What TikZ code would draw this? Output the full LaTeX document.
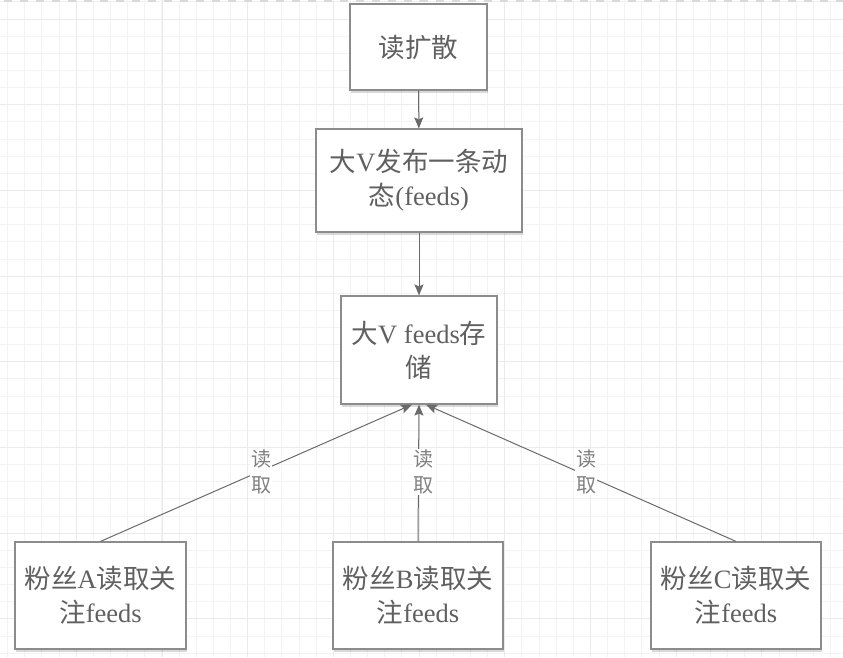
\documentclass[tikz,border=0pt]{standalone}
\usepackage{fontspec}
\setmainfont{Liberation Serif}
\newfontfamily\cjk{Noto Sans CJK SC}
\usetikzlibrary{arrows.meta,shadows}

\definecolor{gridmin}{HTML}{F3F3F3}
\definecolor{gridmaj}{HTML}{EBEBEB}
\definecolor{pageline}{HTML}{D9D9D9}
\definecolor{boxline}{HTML}{8C8C8C}
\definecolor{flowgray}{HTML}{6A6A6A}
\definecolor{textgray}{HTML}{606060}
\definecolor{lblgray}{HTML}{808080}

\tikzset{
  box/.style={draw=boxline, line width=1.2pt, fill=white, text=textgray,
    align=center, inner sep=0pt, font=\fontsize{26.5}{34}\selectfont,
    drop shadow={shadow xshift=1pt, shadow yshift=-3pt, opacity=0.15, fill=black}},
  flow/.style={draw=flowgray, line width=1pt, -{Stealth[length=11pt,width=9pt,inset=2pt]}},
  readlbl/.style={fill=white, text=lblgray, align=center, inner sep=1pt,
    font=\fontsize{20}{26}\selectfont\cjk, xshift=5pt, yshift=1pt}
}

\begin{document}
\begin{tikzpicture}[x=1pt,y=-1pt]
\useasboundingbox (0,0) rectangle (843,657);
% background grid
\foreach \i in {0,...,49}
  \draw[gridmin, line width=0.8pt] ({7.6+\i*17.14},0) -- ++(0,657);
\foreach \j in {0,...,38}
  \draw[gridmin, line width=0.8pt] (0,{1.8+\j*17.14}) -- ++(843,0);
\foreach \i in {0,...,9}
  \draw[gridmaj, line width=0.8pt] ({76.2+\i*85.7},0) -- ++(0,657);
\foreach \j in {0,...,7}
  \draw[gridmaj, line width=0.8pt] (0,{18.9+\j*85.7}) -- ++(843,0);
\draw[pageline, line width=2pt, dash pattern=on 8pt off 8pt] (4,0.5) -- (843,0.5);

% boxes
\node[box, minimum width=137pt, minimum height=86pt] (spread) at (418.5,47) {{\cjk 读扩散}};
\node[box, minimum width=206pt, minimum height=103pt] (post) at (419,180.5)
  {{\cjk 大}V{\cjk 发布一条动}\\{\cjk 态}(feeds)};
\node[box, minimum width=156pt, minimum height=108pt] (store) at (419,350)
  {{\cjk 大}V feeds{\cjk 存}\\{\cjk 储}};
\node[box, minimum width=171pt, minimum height=107pt] (fanA) at (100.5,595.5)
  {{\cjk 粉丝}A{\cjk 读取关}\\{\cjk 注}feeds};
\node[box, minimum width=170pt, minimum height=107pt] (fanB) at (418,595.5)
  {{\cjk 粉丝}B{\cjk 读取关}\\{\cjk 注}feeds};
\node[box, minimum width=170pt, minimum height=107pt] (fanC) at (736,595.5)
  {{\cjk 粉丝}C{\cjk 读取关}\\{\cjk 注}feeds};

% connectors
\draw[flow] (spread) -- (post);
\draw[flow] (post) -- (store);
\draw[flow] (fanA.north) -- node[readlbl] {读\\取} ([xshift=-7pt]store.south);
\draw[flow] (fanB.north) -- node[readlbl] {读\\取} (store.south);
\draw[flow] (fanC.north) -- node[readlbl] {读\\取} ([xshift=7pt]store.south);
\end{tikzpicture}
\end{document}
